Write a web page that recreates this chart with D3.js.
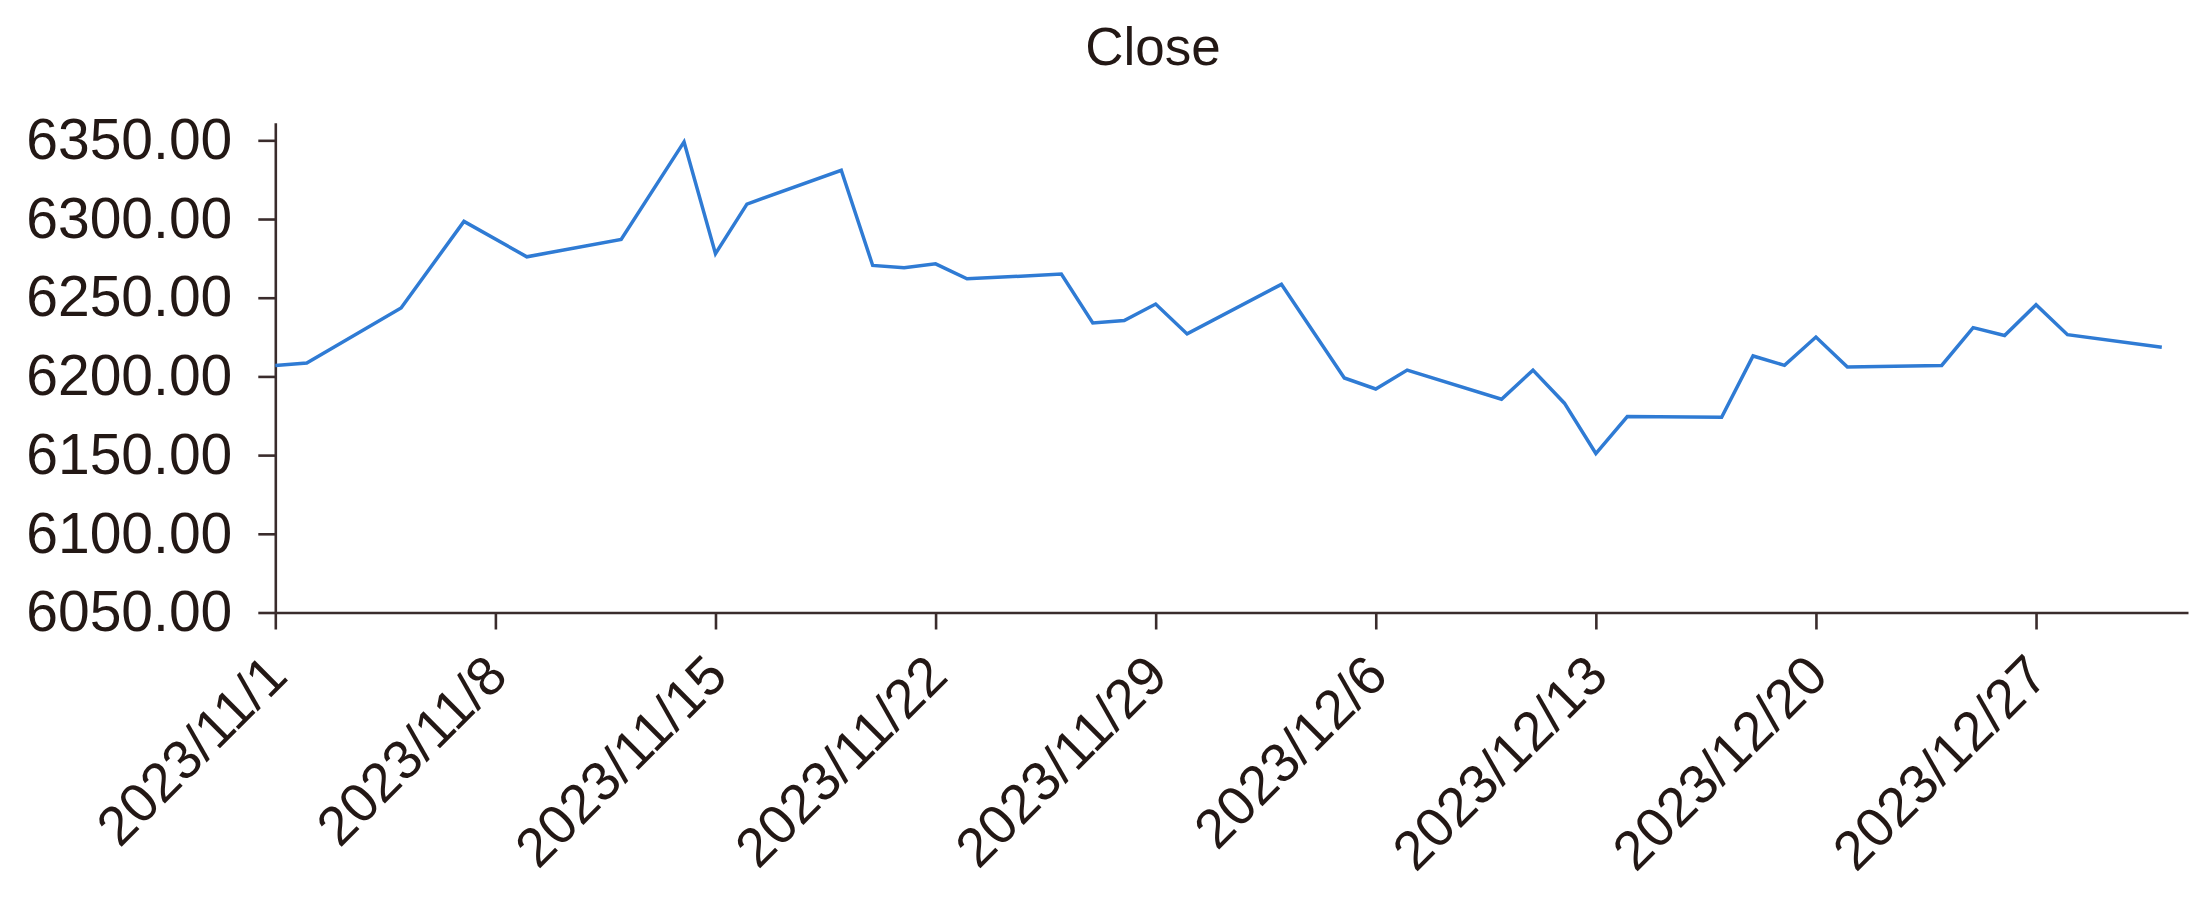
<!DOCTYPE html>
<html>
<head>
<meta charset="utf-8">
<script src="https://cdn.jsdelivr.net/npm/d3@7"></script>
<style>
  html, body { margin: 0; padding: 0; background: #fff; }
  svg { display: block; }
  text { font-family: "Liberation Sans", Arial, Helvetica, sans-serif; fill: #231815; }
</style>
</head>
<body>
<svg id="chart" width="2205" height="897"></svg>
<script>
// ---- data ----
const dates = [
  "2023-11-01","2023-11-02","2023-11-05","2023-11-07","2023-11-09","2023-11-12",
  "2023-11-14","2023-11-15","2023-11-16","2023-11-19","2023-11-20","2023-11-21",
  "2023-11-22","2023-11-23","2023-11-26","2023-11-27","2023-11-28","2023-11-29",
  "2023-11-30","2023-12-03","2023-12-05","2023-12-06","2023-12-07","2023-12-10",
  "2023-12-11","2023-12-12","2023-12-13","2023-12-14","2023-12-17","2023-12-18",
  "2023-12-19","2023-12-20","2023-12-21","2023-12-24","2023-12-25","2023-12-26",
  "2023-12-27","2023-12-28","2023-12-31"
];
const closeValues = [
  6207, 6208.5, 6243.5, 6298.5, 6276, 6287,
  6349, 6278, 6309.5, 6331, 6270.5, 6269,
  6271.5, 6262, 6265, 6234, 6235.5, 6246,
  6227, 6258.5, 6199, 6192, 6204, 6185.5,
  6204, 6183, 6151, 6174.5, 6174, 6213,
  6207, 6225, 6206, 6207, 6231, 6226,
  6245.5, 6226.5, 6218.5
];
const xTickDates = ["2023-11-01","2023-11-08","2023-11-15","2023-11-22","2023-11-29",
                    "2023-12-06","2023-12-13","2023-12-20","2023-12-27"];
const yTickValues = [6050, 6100, 6150, 6200, 6250, 6300, 6350];
const titleText = "Close";

// ---- chart ----
(function () {
const parse = d3.timeParse("%Y-%m-%d");
const points = dates.map((d, i) => ({ date: parse(d), value: closeValues[i] }));

const svg = d3.select("#chart");
const mLeft = 275.3, mRight = 2188, mTop = 122.7, mBottom = 612.5;

const x0 = parse(dates[0]);
const xEnd = d3.timeHour.offset(parse(dates[dates.length - 1]), 20.4);
const x = d3.scaleTime().domain([x0, xEnd]).range([mLeft, mRight]);
const y = d3.scaleLinear().domain([6050, 6361.2]).range([mBottom, mTop]);

const axisColor = "#3a2c2c";

// y axis
const gy = svg.append("g")
  .attr("transform", `translate(${mLeft},0)`)
  .call(d3.axisLeft(y).tickValues(yTickValues).tickFormat(d3.format(".2f"))
        .tickSize(17).tickSizeOuter(0).tickPadding(26));
gy.selectAll("text").style("font-size", "57px").attr("fill", "#231815");
gy.selectAll("line, path").attr("stroke", axisColor).attr("stroke-width", 2.6);

// x axis
const gx = svg.append("g")
  .attr("transform", `translate(0,${mBottom})`)
  .call(d3.axisBottom(x).tickValues(xTickDates.map(parse))
        .tickFormat(d3.timeFormat("%Y/%-m/%-d"))
        .tickSize(17).tickSizeOuter(0));
gx.selectAll("line, path").attr("stroke", axisColor).attr("stroke-width", 2.6);
gx.selectAll("text")
  .style("font-size", "55px")
  .attr("fill", "#231815")
  .attr("text-anchor", "end")
  .attr("x", 0).attr("y", 0).attr("dy", "0")
  .attr("transform", "translate(14,66) rotate(-45)");

// line
const line = d3.line().x(d => x(d.date)).y(d => y(d.value));
svg.append("path")
  .datum(points)
  .attr("fill", "none")
  .attr("stroke", "#2f7bd4")
  .attr("stroke-width", 3.5)
  .attr("stroke-linejoin", "miter")
  .attr("d", line);

// title
svg.append("text")
  .attr("x", 1153).attr("y", 65)
  .attr("text-anchor", "middle")
  .style("font-size", "53px")
  .text(titleText);
})();
</script>
</body>
</html>
